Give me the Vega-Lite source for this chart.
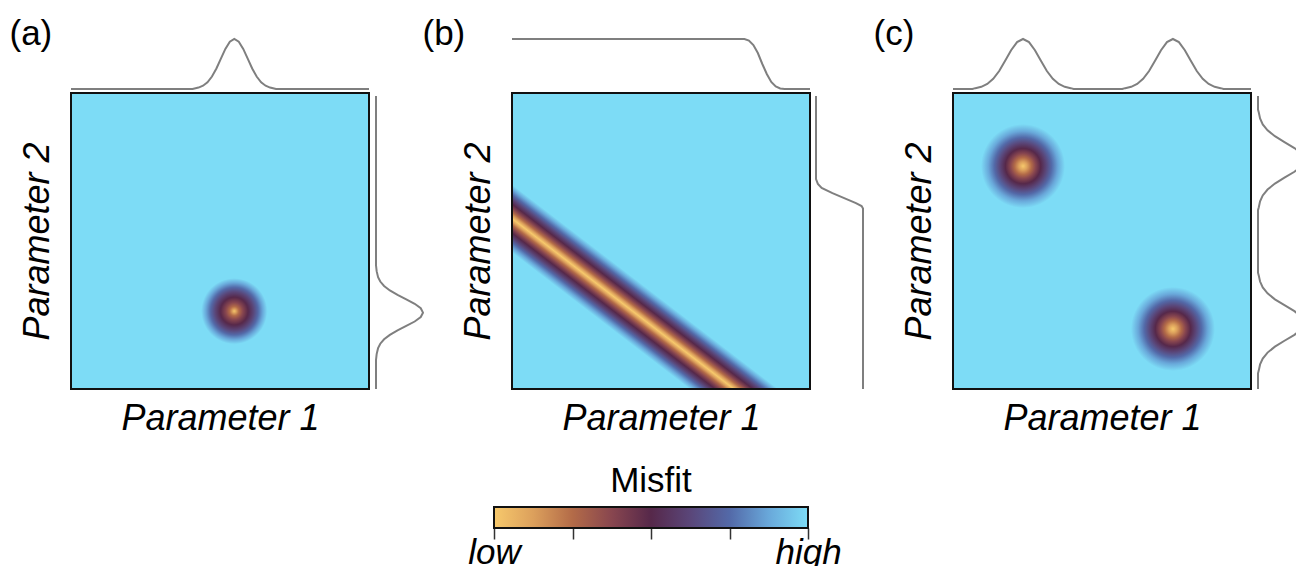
{
  "$schema": "https://vega.github.io/schema/vega-lite/v6.json",
  "padding": {"left": 8, "top": 15, "right": 0, "bottom": 0},
  "background": "white",
  "config": {
    "view": {"stroke": null},
    "font": "Liberation Sans",
    "axis": {"titleFont": "Liberation Sans", "labelFont": "Liberation Sans", "titleColor": "black", "labelColor": "black", "titleFontWeight": "normal", "grid": false},
    "title": {"font": "Liberation Sans", "color": "black", "fontWeight": "normal"}
  },
  "columns": 3,
  "spacing": {"row": 118, "column": 143},
  "bounds": "flush",
  "align": "all",
  "concat": [
    {
      "width": 298, "height": 296,
      "view": {"fill": "#7DDCF6", "stroke": "#111111", "strokeWidth": 2},
      "resolve": {"scale": {"x": "independent", "y": "independent"}},
      "layer": [
        {
          "data": {"values": [{"p1": 54.8, "p2": 26.3}]},
          "mark": {"type": "point", "shape": "circle", "filled": true, "opacity": 1, "size": 4356, "strokeWidth": 0,
            "fill": {"gradient": "radial", "x1": 0.5, "y1": 0.5, "r1": 0, "x2": 0.5, "y2": 0.5, "r2": 0.5,
              "stops": [
                {"offset": 0, "color": "#F7C96C"}, {"offset": 0.06, "color": "#DCA05C"}, {"offset": 0.14, "color": "#B36B48"},
                {"offset": 0.26, "color": "#88464F"}, {"offset": 0.42, "color": "#56284A"}, {"offset": 0.58, "color": "#5A4679"},
                {"offset": 0.72, "color": "#5369A8"}, {"offset": 0.86, "color": "#69A8DA"}, {"offset": 1, "color": "#7DDCF6"}]}},
          "encoding": {
            "x": {"field": "p1", "type": "quantitative", "scale": {"domain": [0, 100], "nice": false, "zero": false},
              "axis": {"title": "Parameter 1", "labels": false, "ticks": false, "domain": false, "titleFontSize": 36, "titleFontStyle": "italic", "titleY": 40, "titleBaseline": "alphabetic"}},
            "y": {"field": "p2", "type": "quantitative", "scale": {"domain": [0, 100], "nice": false, "zero": false},
              "axis": {"title": "Parameter 2", "labels": false, "ticks": false, "domain": false, "titleFontSize": 36, "titleFontStyle": "italic", "titleX": -23, "titleY": 148, "titleAngle": 270, "titleAlign": "center", "titleBaseline": "alphabetic"}}
          }
        },
        {
          "data": {"values": [{"p1":0,"L":0},{"p1":40.8,"L":0},{"p1":42.8,"L":0.029},{"p1":44.3,"L":0.066},{"p1":45.8,"L":0.135},{"p1":47.3,"L":0.249},{"p1":48.8,"L":0.411},{"p1":50.3,"L":0.607},{"p1":51.8,"L":0.801},{"p1":53.3,"L":0.946},{"p1":54.8,"L":1},{"p1":56.3,"L":0.946},{"p1":57.8,"L":0.801},{"p1":59.3,"L":0.607},{"p1":60.8,"L":0.411},{"p1":62.3,"L":0.249},{"p1":63.8,"L":0.135},{"p1":65.3,"L":0.066},{"p1":66.8,"L":0.029},{"p1":68.8,"L":0},{"p1":100,"L":0}]},
          "mark": {"type": "line", "color": "#7F7F7F", "strokeWidth": 2},
          "encoding": {
            "x": {"field": "p1", "type": "quantitative", "scale": {"domain": [0, 100], "nice": false, "zero": false},
              "axis": {"orient": "top", "title": "(a)", "labels": false, "ticks": false, "domain": false, "titleFontSize": 35, "titleAngle": 0, "titleAlign": "left", "titleBaseline": "alphabetic", "titleX": -62, "titleY": -49}},
            "y": {"field": "L", "type": "quantitative", "scale": {"domain": [0, 1], "range": [-4, -54], "nice": false, "zero": false}, "axis": null}
          }
        },
        {
          "data": {"values": [{"p2":0,"L":0},{"p2":9.8,"L":0},{"p2":11.8,"L":0.014},{"p2":13.8,"L":0.044},{"p2":15.3,"L":0.091},{"p2":16.8,"L":0.172},{"p2":18.3,"L":0.295},{"p2":19.8,"L":0.458},{"p2":21.3,"L":0.644},{"p2":22.8,"L":0.823},{"p2":24.3,"L":0.952},{"p2":25.8,"L":1},{"p2":27.3,"L":0.952},{"p2":28.8,"L":0.823},{"p2":30.3,"L":0.644},{"p2":31.8,"L":0.458},{"p2":33.3,"L":0.295},{"p2":34.8,"L":0.172},{"p2":36.3,"L":0.091},{"p2":37.8,"L":0.044},{"p2":39.8,"L":0.014},{"p2":41.8,"L":0},{"p2":99,"L":0}]},
          "mark": {"type": "line", "color": "#7F7F7F", "strokeWidth": 2},
          "encoding": {
            "x": {"field": "L", "type": "quantitative", "scale": {"domain": [0, 1], "range": [305, 352], "nice": false, "zero": false}, "axis": null},
            "y": {"field": "p2", "type": "quantitative", "scale": {"domain": [0, 100], "nice": false, "zero": false}, "axis": null},
            "order": {"field": "p2", "type": "quantitative"}
          }
        }
      ]
    },
    {
      "width": 298, "height": 296,
      "view": {"fill": "#7DDCF6", "stroke": "#111111", "strokeWidth": 2},
      "resolve": {"scale": {"x": "independent", "y": "independent"}},
      "layer": [
        {
          "data": {"values": [{"p1": -20, "p2": 73.06}, {"p1": 100, "p2": -19.72}]},
          "mark": {"type": "line", "strokeWidth": 64, "strokeCap": "butt", "clip": true,
            "stroke": {"gradient": "linear", "x1": 0, "y1": 1, "x2": 1, "y2": 0,
              "stops": [
                {"offset": 0.43801, "color": "#7DDCF6"}, {"offset": 0.44719, "color": "#69A8DA"}, {"offset": 0.45638, "color": "#5369A8"},
                {"offset": 0.46441, "color": "#5A4679"}, {"offset": 0.47360, "color": "#56284A"}, {"offset": 0.48163, "color": "#88464F"},
                {"offset": 0.48852, "color": "#B36B48"}, {"offset": 0.49426, "color": "#DCA05C"}, {"offset": 0.5, "color": "#F7C96C"},
                {"offset": 0.50574, "color": "#DCA05C"}, {"offset": 0.51148, "color": "#B36B48"}, {"offset": 0.51837, "color": "#88464F"},
                {"offset": 0.52640, "color": "#56284A"}, {"offset": 0.53559, "color": "#5A4679"}, {"offset": 0.54362, "color": "#5369A8"},
                {"offset": 0.55281, "color": "#69A8DA"}, {"offset": 0.56199, "color": "#7DDCF6"}]}},
          "encoding": {
            "x": {"field": "p1", "type": "quantitative", "scale": {"domain": [0, 100], "nice": false, "zero": false},
              "axis": {"title": "Parameter 1", "labels": false, "ticks": false, "domain": false, "titleFontSize": 36, "titleFontStyle": "italic", "titleY": 40, "titleBaseline": "alphabetic"}},
            "y": {"field": "p2", "type": "quantitative", "scale": {"domain": [0, 100], "nice": false, "zero": false},
              "axis": {"title": "Parameter 2", "labels": false, "ticks": false, "domain": false, "titleFontSize": 36, "titleFontStyle": "italic", "titleX": -23, "titleY": 148, "titleAngle": 270, "titleAlign": "center", "titleBaseline": "alphabetic"}}
          }
        },
        {
          "data": {"values": [{"f0": 0, "f1": 100}]},
          "mark": {"type": "rect", "filled": false, "fill": null, "stroke": "#111111", "strokeWidth": 2},
          "encoding": {
            "x": {"field": "f0", "type": "quantitative", "scale": {"domain": [0, 100], "nice": false, "zero": false}, "axis": null},
            "x2": {"field": "f1"},
            "y": {"field": "f0", "type": "quantitative", "scale": {"domain": [0, 100], "nice": false, "zero": false}, "axis": null},
            "y2": {"field": "f1"}
          }
        },
        {
          "data": {"values": [{"p1":0,"L":1},{"p1":78,"L":1},{"p1":79.5,"L":0.97},{"p1":81,"L":0.88},{"p1":82.5,"L":0.72},{"p1":84,"L":0.5},{"p1":85.5,"L":0.3},{"p1":87,"L":0.14},{"p1":88.5,"L":0.05},{"p1":90,"L":0.01},{"p1":91.5,"L":0},{"p1":100,"L":0}]},
          "mark": {"type": "line", "color": "#7F7F7F", "strokeWidth": 2},
          "encoding": {
            "x": {"field": "p1", "type": "quantitative", "scale": {"domain": [0, 100], "nice": false, "zero": false},
              "axis": {"orient": "top", "title": "(b)", "labels": false, "ticks": false, "domain": false, "titleFontSize": 35, "titleAngle": 0, "titleAlign": "left", "titleBaseline": "alphabetic", "titleX": -90, "titleY": -49}},
            "y": {"field": "L", "type": "quantitative", "scale": {"domain": [0, 1], "range": [-4, -54], "nice": false, "zero": false}, "axis": null}
          }
        },
        {
          "data": {"values": [{"p2":0,"L":1},{"p2":61,"L":1},{"p2":61.8,"L":0.97},{"p2":62.8,"L":0.85},{"p2":64.5,"L":0.6},{"p2":66.2,"L":0.35},{"p2":67.9,"L":0.12},{"p2":69.3,"L":0.04},{"p2":70.9,"L":0},{"p2":99,"L":0}]},
          "mark": {"type": "line", "color": "#7F7F7F", "strokeWidth": 2},
          "encoding": {
            "x": {"field": "L", "type": "quantitative", "scale": {"domain": [0, 1], "range": [304, 351], "nice": false, "zero": false}, "axis": null},
            "y": {"field": "p2", "type": "quantitative", "scale": {"domain": [0, 100], "nice": false, "zero": false}, "axis": null},
            "order": {"field": "p2", "type": "quantitative"}
          }
        }
      ]
    },
    {
      "width": 298, "height": 296,
      "view": {"fill": "#7DDCF6", "stroke": "#111111", "strokeWidth": 2},
      "resolve": {"scale": {"x": "independent", "y": "independent"}},
      "layer": [
        {
          "data": {"values": [{"p1": 23.5, "p2": 75.3}, {"p1": 73.8, "p2": 20.3}]},
          "mark": {"type": "point", "shape": "circle", "filled": true, "opacity": 1, "size": 7056, "strokeWidth": 0,
            "fill": {"gradient": "radial", "x1": 0.5, "y1": 0.5, "r1": 0, "x2": 0.5, "y2": 0.5, "r2": 0.5,
              "stops": [
                {"offset": 0, "color": "#F7C96C"}, {"offset": 0.1, "color": "#DCA05C"}, {"offset": 0.2, "color": "#B36B48"},
                {"offset": 0.3, "color": "#88464F"}, {"offset": 0.42, "color": "#56284A"}, {"offset": 0.55, "color": "#5A4679"},
                {"offset": 0.68, "color": "#5369A8"}, {"offset": 0.83, "color": "#69A8DA"}, {"offset": 1, "color": "#7DDCF6"}]}},
          "encoding": {
            "x": {"field": "p1", "type": "quantitative", "scale": {"domain": [0, 100], "nice": false, "zero": false},
              "axis": {"title": "Parameter 1", "labels": false, "ticks": false, "domain": false, "titleFontSize": 36, "titleFontStyle": "italic", "titleY": 40, "titleBaseline": "alphabetic"}},
            "y": {"field": "p2", "type": "quantitative", "scale": {"domain": [0, 100], "nice": false, "zero": false},
              "axis": {"title": "Parameter 2", "labels": false, "ticks": false, "domain": false, "titleFontSize": 36, "titleFontStyle": "italic", "titleX": -23, "titleY": 148, "titleAngle": 270, "titleAlign": "center", "titleBaseline": "alphabetic"}}
          }
        },
        {
          "data": {"values": [{"p1":0,"L":0},{"p1":6.5,"L":0},{"p1":7.5,"L":0.017},{"p1":9.5,"L":0.044},{"p1":11.5,"L":0.101},{"p1":13.5,"L":0.203},{"p1":15.5,"L":0.36},{"p1":17.5,"L":0.563},{"p1":19.5,"L":0.775},{"p1":21.5,"L":0.938},{"p1":23.5,"L":1},{"p1":25.5,"L":0.938},{"p1":27.5,"L":0.775},{"p1":29.5,"L":0.563},{"p1":31.5,"L":0.36},{"p1":33.5,"L":0.203},{"p1":35.5,"L":0.101},{"p1":37.5,"L":0.044},{"p1":39.5,"L":0.017},{"p1":40.5,"L":0},{"p1":56.8,"L":0},{"p1":57.8,"L":0.017},{"p1":59.8,"L":0.044},{"p1":61.8,"L":0.101},{"p1":63.8,"L":0.203},{"p1":65.8,"L":0.36},{"p1":67.8,"L":0.563},{"p1":69.8,"L":0.775},{"p1":71.8,"L":0.938},{"p1":73.8,"L":1},{"p1":75.8,"L":0.938},{"p1":77.8,"L":0.775},{"p1":79.8,"L":0.563},{"p1":81.8,"L":0.36},{"p1":83.8,"L":0.203},{"p1":85.8,"L":0.101},{"p1":87.8,"L":0.044},{"p1":89.8,"L":0.017},{"p1":90.8,"L":0},{"p1":100,"L":0}]},
          "mark": {"type": "line", "color": "#7F7F7F", "strokeWidth": 2},
          "encoding": {
            "x": {"field": "p1", "type": "quantitative", "scale": {"domain": [0, 100], "nice": false, "zero": false},
              "axis": {"orient": "top", "title": "(c)", "labels": false, "ticks": false, "domain": false, "titleFontSize": 35, "titleAngle": 0, "titleAlign": "left", "titleBaseline": "alphabetic", "titleX": -80, "titleY": -49}},
            "y": {"field": "L", "type": "quantitative", "scale": {"domain": [0, 1], "range": [-4, -54], "nice": false, "zero": false}, "axis": null}
          }
        },
        {
          "data": {"values": [{"p2":0,"L":0},{"p2":5.3,"L":0},{"p2":6.3,"L":0.017},{"p2":8.3,"L":0.044},{"p2":10.3,"L":0.101},{"p2":12.3,"L":0.203},{"p2":14.3,"L":0.36},{"p2":16.3,"L":0.563},{"p2":18.3,"L":0.775},{"p2":20.3,"L":0.938},{"p2":22.3,"L":1},{"p2":24.3,"L":0.938},{"p2":26.3,"L":0.775},{"p2":28.3,"L":0.563},{"p2":30.3,"L":0.36},{"p2":32.3,"L":0.203},{"p2":34.3,"L":0.101},{"p2":36.3,"L":0.044},{"p2":38.3,"L":0.017},{"p2":39.3,"L":0},{"p2":60.4,"L":0},{"p2":61.4,"L":0.017},{"p2":63.4,"L":0.044},{"p2":65.4,"L":0.101},{"p2":67.4,"L":0.203},{"p2":69.4,"L":0.36},{"p2":71.4,"L":0.563},{"p2":73.4,"L":0.775},{"p2":75.4,"L":0.938},{"p2":77.4,"L":1},{"p2":79.4,"L":0.938},{"p2":81.4,"L":0.775},{"p2":83.4,"L":0.563},{"p2":85.4,"L":0.36},{"p2":87.4,"L":0.203},{"p2":89.4,"L":0.101},{"p2":91.4,"L":0.044},{"p2":93.4,"L":0.017},{"p2":94.4,"L":0},{"p2":99,"L":0}]},
          "mark": {"type": "line", "color": "#7F7F7F", "strokeWidth": 2},
          "encoding": {
            "x": {"field": "L", "type": "quantitative", "scale": {"domain": [0, 1], "range": [305, 352], "nice": false, "zero": false}, "axis": null},
            "y": {"field": "p2", "type": "quantitative", "scale": {"domain": [0, 100], "nice": false, "zero": false}, "axis": null},
            "order": {"field": "p2", "type": "quantitative"}
          }
        }
      ]
    },
    {
      "width": 298, "height": 21,
      "data": {"values": []},
      "mark": "point"
    },
    {
      "width": 298, "height": 21,
      "title": {"text": "Misfit", "fontSize": 35, "anchor": "middle", "frame": "group", "baseline": "alphabetic", "offset": 14, "dx": -10, "dy": 35},
      "data": {"values": [{"lo": 0, "hi": 1}]},
      "mark": {"type": "rect", "stroke": "#111111", "strokeWidth": 2,
        "fill": {"gradient": "linear", "x1": 0, "y1": 0, "x2": 1, "y2": 0,
          "stops": [
            {"offset": 0, "color": "#F7C96C"}, {"offset": 0.125, "color": "#DCA05C"}, {"offset": 0.25, "color": "#B36B48"},
            {"offset": 0.375, "color": "#88464F"}, {"offset": 0.5, "color": "#56284A"}, {"offset": 0.625, "color": "#5A4679"},
            {"offset": 0.75, "color": "#5369A8"}, {"offset": 0.875, "color": "#69A8DA"}, {"offset": 1, "color": "#7DDCF6"}]}},
      "encoding": {
        "x": {"field": "lo", "type": "quantitative", "scale": {"domain": [0, 1], "range": [-18, 296], "nice": false, "zero": false},
          "axis": {"values": [0, 0.25, 0.5, 0.75, 1], "labelExpr": "datum.value === 0 ? 'low' : (datum.value === 1 ? 'high' : '')", "title": null, "domain": false, "tickSize": 11, "tickWidth": 1.5, "tickColor": "#333333", "labelFontSize": 35, "labelFontStyle": "italic", "labelPadding": 24, "labelBaseline": "alphabetic", "labelOverlap": false, "labelFlush": false, "labelAlign": "center"}},
        "x2": {"field": "hi"}
      }
    }
  ]
}
